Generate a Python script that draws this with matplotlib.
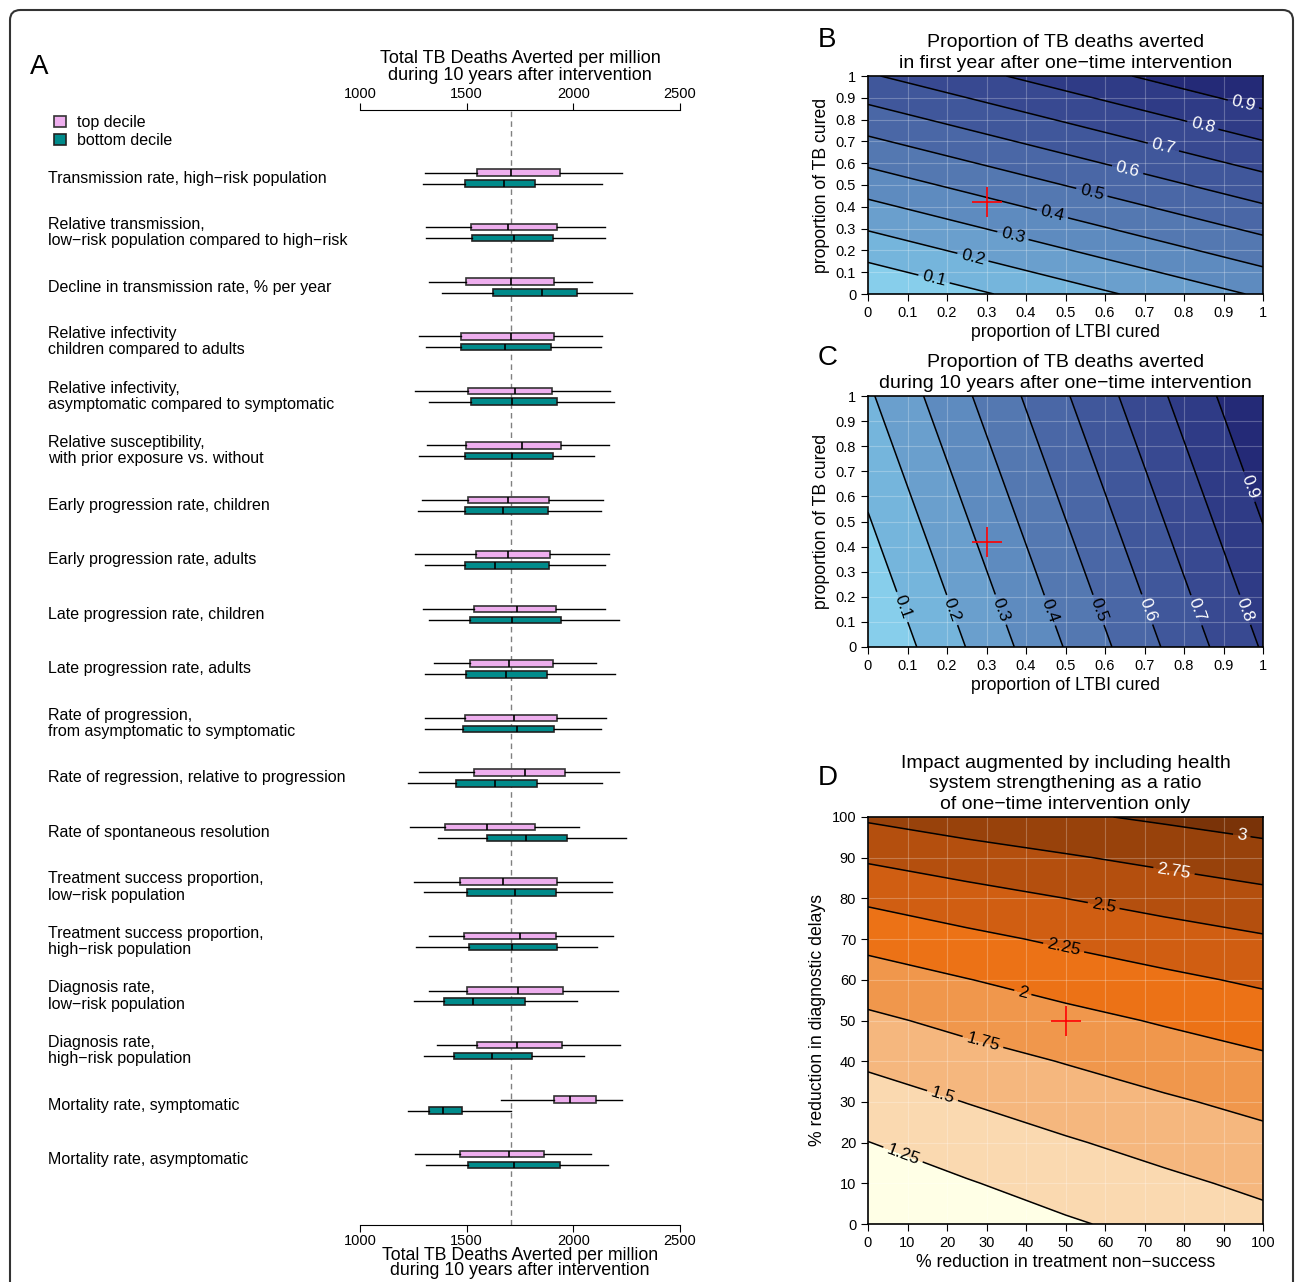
import numpy as np
import matplotlib.pyplot as plt
from matplotlib.patches import Patch, FancyBboxPatch
from matplotlib.transforms import blended_transform_factory

plt.rcParams['font.family'] = ['Liberation Sans', 'DejaVu Sans']

W, H = 1295, 1282

# ---------------- panel A data ----------------
labels = [
    "Transmission rate, high\u2212risk population",
    "Relative transmission,\nlow\u2212risk population compared to high\u2212risk",
    "Decline in transmission rate, % per year",
    "Relative infectivity\nchildren compared to adults",
    "Relative infectivity,\nasymptomatic compared to symptomatic",
    "Relative susceptibility,\nwith prior exposure vs. without",
    "Early progression rate, children",
    "Early progression rate, adults",
    "Late progression rate, children",
    "Late progression rate, adults",
    "Rate of progression,\nfrom asymptomatic to symptomatic",
    "Rate of regression, relative to progression",
    "Rate of spontaneous resolution",
    "Treatment success proportion,\nlow\u2212risk population",
    "Treatment success proportion,\nhigh\u2212risk population",
    "Diagnosis rate,\nlow\u2212risk population",
    "Diagnosis rate,\nhigh\u2212risk population",
    "Mortality rate, symptomatic",
    "Mortality rate, asymptomatic",
]
# top decile: whisker low, q1, median, q3, whisker high
top_lo  = [1305, 1309, 1325, 1278, 1258, 1312, 1291, 1258, 1294, 1345, 1303, 1278, 1236, 1252, 1322, 1323, 1362, 1661, 1259]
top_q1  = [1550, 1520, 1498, 1472, 1508, 1497, 1505, 1542, 1533, 1517, 1494, 1533, 1400, 1467, 1489, 1503, 1550, 1909, 1467]
top_med = [1708, 1695, 1708, 1706, 1727, 1761, 1695, 1695, 1736, 1698, 1722, 1773, 1597, 1672, 1752, 1742, 1737, 1983, 1698]
top_q3  = [1937, 1925, 1911, 1908, 1902, 1942, 1884, 1892, 1920, 1906, 1925, 1963, 1822, 1923, 1920, 1953, 1948, 2105, 1862]
top_hi  = [2227, 2148, 2086, 2136, 2173, 2169, 2141, 2166, 2150, 2105, 2153, 2216, 2027, 2181, 2188, 2208, 2217, 2227, 2081]
# bottom decile
bot_lo  = [1294, 1309, 1386, 1308, 1325, 1277, 1272, 1306, 1323, 1305, 1306, 1227, 1366, 1298, 1261, 1252, 1300, 1227, 1309]
bot_q1  = [1492, 1527, 1625, 1475, 1520, 1494, 1492, 1492, 1517, 1495, 1484, 1450, 1597, 1500, 1513, 1394, 1442, 1323, 1508]
bot_med = [1677, 1722, 1855, 1680, 1711, 1714, 1670, 1634, 1714, 1686, 1736, 1634, 1780, 1727, 1714, 1531, 1617, 1391, 1723]
bot_q3  = [1822, 1903, 2019, 1897, 1922, 1906, 1881, 1884, 1944, 1877, 1908, 1831, 1969, 1920, 1925, 1772, 1808, 1477, 1936]
bot_hi  = [2136, 2150, 2273, 2130, 2192, 2098, 2130, 2150, 2214, 2194, 2131, 2136, 2247, 2181, 2111, 2019, 2050, 1708, 2164]
baseline = 1710

# ---------------- panels B, C data (grid) ----------------
ltbi = [0, 0.5, 1]
tbcure = [0, 0.5, 1]
# rows = tbcure, cols = ltbi
first_year = [[0.000, 0.157, 0.314],
              [0.345, 0.502, 0.659],
              [0.690, 0.847, 1.004]]
ten_year = [[0.000, 0.405, 0.809],
            [0.093, 0.498, 0.902],
            [0.186, 0.591, 0.995]]
prop_levels = [0.1, 0.2, 0.3, 0.4, 0.5, 0.6, 0.7, 0.8, 0.9]
cross_bc = (0.3, 0.42)

# ---------------- panel D data ----------------
nonsuccess = [0, 25, 50, 75, 100]
delays = [0, 10, 20, 30, 40, 50, 60, 70, 80, 90, 100]
ratio = [[1.000, 1.108, 1.222, 1.325, 1.430],
         [1.123, 1.234, 1.349, 1.450, 1.550],
         [1.246, 1.369, 1.476, 1.581, 1.678],
         [1.390, 1.505, 1.617, 1.717, 1.814],
         [1.539, 1.657, 1.761, 1.866, 1.959],
         [1.701, 1.818, 1.925, 2.023, 2.119],
         [1.882, 1.993, 2.101, 2.198, 2.289],
         [2.078, 2.190, 2.292, 2.388, 2.474],
         [2.295, 2.404, 2.500, 2.593, 2.678],
         [2.535, 2.636, 2.726, 2.812, 2.893],
         [2.785, 2.884, 2.962, 3.040, 3.120]]
ratio_levels = [1.25, 1.5, 1.75, 2, 2.25, 2.5, 2.75, 3]
cross_d = (50, 50)

blues = ['#87CEEB', '#75B5DC', '#6A9FCD', '#5E8BBF', '#5478B1', '#4A67A6',
         '#40579B', '#384991', '#2F3B86', '#242A77']
oranges = ['#FFFFE6', '#FAD9B0', '#F5B77E', '#F0974C', '#EC7216', '#D05E12',
           '#B44F0E', '#98420B', '#7A3308']


def axpos(l, t, r, b):
    return [l / W, 1 - b / H, (r - l) / W, (b - t) / H]


fig = plt.figure(figsize=(W / 100, H / 100), dpi=100)

# frame
fig.patches.append(FancyBboxPatch((10 / W, -0.01), 1283 / W, 1.0 - 10 / H + 0.01,
                                  boxstyle='round,pad=0,rounding_size=0.008',
                                  transform=fig.transFigure, fill=False,
                                  ec='#333333', lw=1.5))

# ---------------- panel A ----------------
axA = fig.add_axes(axpos(360, 110, 680, 1225))
n = len(labels)
pos = np.arange(n)


def stats(lo, q1, med, q3, hi):
    return [dict(whislo=a, q1=b, med=c, q3=d, whishi=e)
            for a, b, c, d, e in zip(lo, q1, med, q3, hi)]


bstyle = dict(orientation='horizontal', widths=0.12, patch_artist=True,
              showcaps=False, showfliers=False,
              whiskerprops=dict(color='black', lw=1),
              medianprops=dict(color='black', lw=1.2))
axA.bxp(stats(top_lo, top_q1, top_med, top_q3, top_hi), positions=pos - 0.1,
        boxprops=dict(facecolor='#EEAEEE', edgecolor='#333333', lw=1.2), **bstyle)
axA.bxp(stats(bot_lo, bot_q1, bot_med, bot_q3, bot_hi), positions=pos + 0.1,
        boxprops=dict(facecolor='#008B8B', edgecolor='#222222', lw=1.2), **bstyle)
axA.axvline(baseline, color='gray', ls=(0, (4, 3)), lw=1, zorder=0)
axA.set_xlim(1000, 2500)
axA.set_ylim(n - 1 + 1.20, -1.25)
axA.set_xticks([1000, 1500, 2000, 2500])
axA.tick_params(axis='x', top=True, labeltop=True, bottom=True, labelbottom=True,
                labelsize=10.5, length=5, direction='out', pad=1.5)
axA.set_yticks([])
for s in ['left', 'right']:
    axA.spines[s].set_visible(False)
tr = blended_transform_factory(fig.transFigure, axA.transData)
for i, lab in enumerate(labels):
    axA.text(48 / W, i, lab, transform=tr, ha='left', va='center', fontsize=11.5,
             linespacing=1.12, clip_on=False)
title_a = "Total TB Deaths Averted per million\nduring 10 years after intervention"
fig.text(520 / W, 1 - 67 / H, title_a, ha='center', va='center', fontsize=13, linespacing=1.0)
fig.text(520 / W, 1 - 1263 / H, title_a, ha='center', va='center', fontsize=12.8, linespacing=0.92)
fig.text(30 / W, 1 - 67 / H, "A", ha='left', va='center', fontsize=20)
fig.legend([Patch(facecolor='#EEAEEE', edgecolor='#333333', lw=1.2),
            Patch(facecolor='#008B8B', edgecolor='#222222', lw=1.2)],
           ['top decile', 'bottom decile'], loc='upper left',
           bbox_to_anchor=(46 / W, 1 - 107 / H), frameon=False, fontsize=11.5,
           handlelength=0.75, handleheight=0.75, handletextpad=0.7, labelspacing=0.2,
           borderpad=0)


# ---------------- panels B, C ----------------
def prop_panel(box, z, title, letter, ypos, manual, label_colors):
    ax = fig.add_axes(axpos(*box))
    lv = [0] + prop_levels + [1.1]
    ax.contourf(ltbi, tbcure, z, levels=lv, colors=blues)
    cs = ax.contour(ltbi, tbcure, z, levels=prop_levels, colors='black', linewidths=1.1)
    ax.clabel(cs, prop_levels, manual=manual, colors=label_colors, fontsize=12.5,
              inline=True, inline_spacing=4, fmt='%g')
    ax.plot(*cross_bc, marker='+', color='red', ms=22, mew=1.2)
    ticks = np.round(np.arange(0, 1.01, 0.1), 1)
    ax.set_xticks(ticks)
    ax.set_yticks(ticks)
    ax.set_xticklabels(['%g' % t for t in ticks])
    ax.set_yticklabels(['%g' % t for t in ticks])
    ax.tick_params(labelsize=10.5, length=5)
    ax.grid(color='white', alpha=0.25, lw=0.8)
    ax.set_xlim(0, 1)
    ax.set_ylim(0, 1)
    ax.set_xlabel("proportion of LTBI cured", fontsize=12.7, labelpad=3)
    ax.set_ylabel("proportion of TB cured", fontsize=12.7, labelpad=4)
    ax.set_title(title, fontsize=14, linespacing=1.25, pad=6)
    fig.text(818 / W, 1 - ypos / H, letter, ha='left', va='center', fontsize=20)
    for s in ax.spines.values():
        s.set_linewidth(1.2)
    return ax


lab_col = ['black'] * 5 + ['white'] * 4
prop_panel((868, 76, 1263, 294), first_year,
           "Proportion of TB deaths averted\nin first year after one\u2212time intervention",
           "B", 40,
           [(0.17, 0.09), (0.27, 0.2), (0.37, 0.29), (0.47, 0.39), (0.57, 0.49),
            (0.66, 0.59), (0.75, 0.69), (0.85, 0.79), (0.95, 0.87)], lab_col)
prop_panel((868, 396, 1263, 647), ten_year,
           "Proportion of TB deaths averted\nduring 10 years after one\u2212time intervention",
           "C", 358,
           [(0.07, 0.15), (0.2, 0.14), (0.32, 0.14), (0.45, 0.14), (0.57, 0.14),
            (0.69, 0.14), (0.82, 0.14), (0.94, 0.14), (0.95, 0.63)], lab_col)

# ---------------- panel D ----------------
axD = fig.add_axes(axpos(868, 817, 1263, 1224))
axD.contourf(nonsuccess, delays, ratio, levels=[0.9] + ratio_levels + [3.3], colors=oranges)
csd = axD.contour(nonsuccess, delays, ratio, levels=ratio_levels, colors='black', linewidths=1.1)
axD.clabel(csd, ratio_levels,
           manual=[(10, 20), (20, 35), (30, 48), (40, 60), (50, 70), (60, 80), (78, 90), (95, 98)],
           colors=['black'] * 6 + ['white'] * 2, fontsize=12.5, inline=True,
           inline_spacing=4, fmt='%g')
axD.plot(*cross_d, marker='+', color='red', ms=22, mew=1.2)
axD.set_xticks(np.arange(0, 101, 10))
axD.set_yticks(np.arange(0, 101, 10))
axD.tick_params(labelsize=10.5, length=5)
axD.grid(color='white', alpha=0.25, lw=0.8)
axD.set_xlim(0, 100)
axD.set_ylim(0, 100)
axD.set_xlabel("% reduction in treatment non\u2212success", fontsize=12.7, labelpad=3)
axD.set_ylabel("% reduction in diagnostic delays", fontsize=12.7, labelpad=4)
axD.set_title("Impact augmented by including health\nsystem strengthening as a ratio\nof one\u2212time intervention only",
              fontsize=14, linespacing=1.25, pad=6)
for s in axD.spines.values():
    s.set_linewidth(1.2)
fig.text(818 / W, 1 - 778 / H, "D", ha='left', va='center', fontsize=20)

fig.savefig("out.png", dpi=100)
